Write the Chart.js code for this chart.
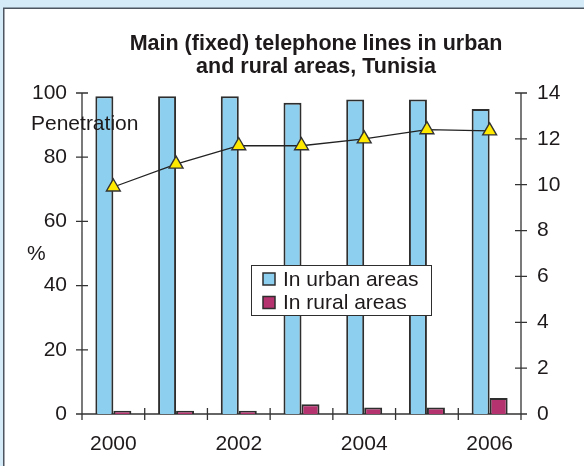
<!DOCTYPE html>
<html>
<head>
<meta charset="utf-8">
<title>Main (fixed) telephone lines in urban and rural areas, Tunisia</title>
<script src="https://cdn.jsdelivr.net/npm/chart.js@4.4.1/dist/chart.umd.min.js"></script>
<style>
  html, body { margin: 0; padding: 0; background: #d5ebf8; }
  canvas { display: block; }
</style>
</head>
<body>
<canvas id="chart" width="584" height="466"></canvas>
<script>
// Data
const years = ['2000', '2001', '2002', '2003', '2004', '2005', '2006'];
const labelledYears = ['2000', '2002', '2004', '2006'];
const urbanShare = [99, 99, 99, 97, 98, 98, 95];      // % of lines, urban
const ruralShare = [1, 1, 1, 3, 2, 2, 5];             // % of lines, rural
const penetration = [9.9, 10.9, 11.7, 11.7, 12.0, 12.4, 12.35]; // lines per 100 inhabitants
const leftTicks = [0, 20, 40, 60, 80, 100];
const rightTicks = [0, 2, 4, 6, 8, 10, 12, 14];

const titleLines = ['Main (fixed) telephone lines in urban', 'and rural areas, Tunisia'];
const FONT = '"Liberation Sans", Arial, Helvetica, sans-serif';
const SIZE = 21;
const TEXT = '#1e1a1b';
const AXIS = '#333333';
const URBAN = '#8dcfee';
const RURAL = '#b5336f';
const EDGE = '#2e2e2e';

// Page frame, title, axes, legend and axis captions
const decor = {
  id: 'decor',
  beforeDraw(chart) {
    const { ctx, width, height } = chart;
    ctx.save();
    ctx.fillStyle = '#d5ebf8';
    ctx.fillRect(0, 0, width, height);
    ctx.fillStyle = '#ffffff';
    ctx.fillRect(4, 9, width, height);
    ctx.strokeStyle = '#4d5560';
    ctx.lineWidth = 1.5;
    ctx.beginPath();
    ctx.moveTo(3.75, height + 2);
    ctx.lineTo(3.75, 8.25);
    ctx.lineTo(width + 2, 8.25);
    ctx.stroke();

    ctx.fillStyle = TEXT;
    ctx.font = 'bold 21.5px ' + FONT;
    ctx.textAlign = 'center';
    ctx.textBaseline = 'middle';
    ctx.fillText(titleLines[0], 316, 44);
    ctx.fillText(titleLines[1], 316, 67);
    ctx.restore();
  },
  beforeDatasetsDraw(chart) {
    const { ctx, chartArea: a, scales } = chart;
    const x = scales.x, y = scales.y, y1 = scales.y1;
    ctx.save();
    ctx.strokeStyle = AXIS;
    ctx.lineWidth = 1.3;
    ctx.beginPath();
    // axis lines
    ctx.moveTo(a.left - 6, a.bottom); ctx.lineTo(a.right + 6, a.bottom);
    ctx.moveTo(a.left, a.top); ctx.lineTo(a.left, a.bottom + 6);
    ctx.moveTo(a.right, a.top); ctx.lineTo(a.right, a.bottom + 6);
    // tick marks crossing the axes
    leftTicks.forEach(v => {
      const py = y.getPixelForValue(v);
      ctx.moveTo(a.left - 6, py); ctx.lineTo(a.left + 6, py);
    });
    rightTicks.forEach(v => {
      const py = y1.getPixelForValue(v);
      ctx.moveTo(a.right - 6, py); ctx.lineTo(a.right + 6, py);
    });
    for (let i = 0; i <= years.length; i++) {
      const px = x.getPixelForValue(i - 0.5);
      ctx.moveTo(px, a.bottom - 6); ctx.lineTo(px, a.bottom + 6);
    }
    ctx.stroke();
    ctx.restore();
  },
  afterDatasetsDraw(chart) {
    const { ctx } = chart;
    ctx.save();
    ctx.fillStyle = TEXT;
    ctx.font = SIZE + 'px ' + FONT;
    ctx.textAlign = 'left';
    ctx.textBaseline = 'middle';
    ctx.fillText('Penetration', 31, 124);
    ctx.fillText('%', 27, 254);

    // legend box
    const bx = 251.5, by = 265.5, bw = 180, bh = 50;
    ctx.fillStyle = '#ffffff';
    ctx.fillRect(bx, by, bw, bh);
    ctx.strokeStyle = EDGE;
    ctx.lineWidth = 1;
    ctx.strokeRect(bx, by, bw, bh);
    const items = chart.data.datasets.filter(d => d.type === 'bar');
    items.forEach((d, i) => {
      const cy = 279 + i * 23.5;
      ctx.fillStyle = d.backgroundColor;
      ctx.fillRect(263, cy - 6, 12, 12);
      ctx.strokeStyle = EDGE;
      ctx.lineWidth = 1.5;
      ctx.strokeRect(263, cy - 6, 12, 12);
      ctx.fillStyle = TEXT;
      ctx.fillText(d.label, 283, cy + 1);
    });
    ctx.restore();
  }
};

new Chart(document.getElementById('chart'), {
  data: {
    labels: years,
    datasets: [
      {
        type: 'line',
        label: 'Penetration',
        data: penetration,
        yAxisID: 'y1',
        order: 0,
        borderColor: '#222222',
        borderWidth: 1.3,
        tension: 0,
        pointStyle: 'triangle',
        pointRadius: 8,
        pointBackgroundColor: '#ffe900',
        pointBorderColor: '#333333',
        pointBorderWidth: 1.4
      },
      {
        type: 'bar',
        label: 'In urban areas',
        data: urbanShare,
        yAxisID: 'y',
        order: 1,
        backgroundColor: URBAN,
        borderColor: EDGE,
        borderWidth: 2,
        categoryPercentage: 0.574,
        barPercentage: 1
      },
      {
        type: 'bar',
        label: 'In rural areas',
        data: ruralShare,
        yAxisID: 'y',
        order: 1,
        backgroundColor: RURAL,
        borderColor: EDGE,
        borderWidth: 2,
        categoryPercentage: 0.574,
        barPercentage: 1
      }
    ]
  },
  options: {
    responsive: false,
    animation: false,
    events: [],
    layout: { padding: { top: 93, left: 0, right: 0, bottom: 0 } },
    plugins: {
      legend: { display: false },
      title: { display: false },
      tooltip: { enabled: false }
    },
    scales: {
      x: {
        type: 'category',
        offset: true,
        grid: { display: false, drawTicks: false },
        border: { display: false },
        afterFit(s) { s.height = 52; },
        ticks: {
          autoSkip: false,
          maxRotation: 0,
          padding: 18,
          color: TEXT,
          font: { family: FONT, size: SIZE },
          callback: (v, i) => labelledYears.includes(years[i]) ? years[i] : ''
        }
      },
      y: {
        position: 'left',
        min: 0,
        max: 100,
        grid: { display: false, drawTicks: false },
        border: { display: false },
        afterFit(s) { s.width = 82; },
        afterBuildTicks(s) { s.ticks = leftTicks.map(v => ({ value: v })); },
        ticks: {
          padding: 15,
          color: TEXT,
          font: { family: FONT, size: SIZE }
        }
      },
      y1: {
        position: 'right',
        min: 0,
        max: 14,
        grid: { display: false, drawTicks: false },
        border: { display: false },
        afterFit(s) { s.width = 63; },
        afterBuildTicks(s) { s.ticks = rightTicks.map(v => ({ value: v })); },
        ticks: {
          padding: 16,
          color: TEXT,
          font: { family: FONT, size: SIZE }
        }
      }
    }
  },
  plugins: [decor]
});
</script>
</body>
</html>
